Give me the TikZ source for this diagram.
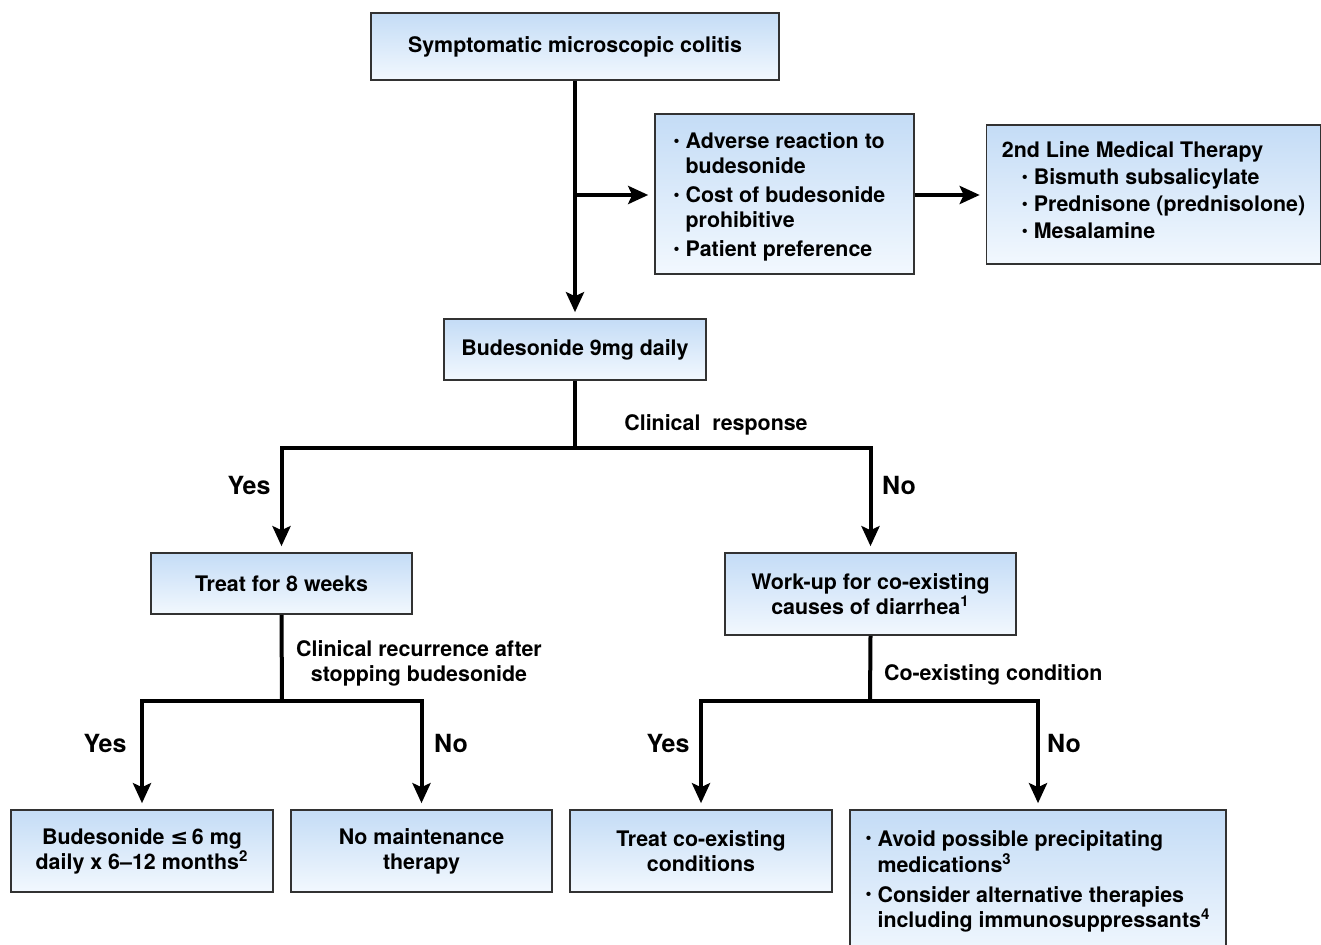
\documentclass[tikz,border=0pt]{standalone}
\usepackage{fontspec}
\setmainfont{TeX Gyre Heros}
\newfontfamily\symfont{DejaVu Sans}
\usetikzlibrary{arrows.meta}

\definecolor{boxtop}{RGB}{196,220,246}
\definecolor{boxbot}{RGB}{242,248,254}
\definecolor{boxline}{RGB}{50,50,50}

\newcommand{\bul}{\raisebox{0.25ex}{\scalebox{0.8}{\textbullet}}}

\tikzset{
  box/.style={draw=boxline, line width=0.8pt, top color=boxtop, bottom color=boxbot,
    align=center, font=\bfseries\fontsize{10.7}{12.5}\selectfont, inner sep=0pt},
  link/.style={line width=2pt, draw=black},
  arr/.style={link, -{Stealth[length=10pt, width=9pt, inset=2pt]}, shorten >=3pt},
  answer/.style={font=\bfseries\fontsize{12.5}{14}\selectfont},
  question/.style={font=\bfseries\fontsize{10.7}{12.5}\selectfont, align=center}
}

\begin{document}
\begin{tikzpicture}[x=0.5pt, y=-0.5pt]

% Page frame (pixel grid of the reference)
\useasboundingbox (0,0) rectangle (1321,945);

% Boxes
\node[box, minimum width=204pt, minimum height=33.5pt] (start) at (575,46.5) {Symptomatic microscopic colitis};
\node[box, minimum width=129.5pt, minimum height=80pt, align=left] (adverse) at (784.5,194)
  {\raisebox{-2pt}[\height][\depth]{\begin{tabular}{@{}l@{\hspace{3pt}}l@{}}
   \bul & Adverse reaction to\\
        & budesonide\\[2pt]
   \bul & Cost of budesonide\\
        & prohibitive\\[2pt]
   \bul & Patient preference
   \end{tabular}}\hspace{5pt}};
\node[box, minimum width=167pt, minimum height=69.5pt, align=left] (second) at (1153.5,194.5)
  {\begin{tabular}{@{}l@{\hspace{3pt}}l@{}}
   \multicolumn{2}{@{}l@{}}{2nd Line Medical Therapy}\\[1pt]
   \hspace{10pt}\bul & Bismuth subsalicylate\\[1pt]
   \hspace{10pt}\bul & Prednisone (prednisolone)\\[1pt]
   \hspace{10pt}\bul & Mesalamine\\[1pt]
   \end{tabular}};
\node[box, minimum width=131pt, minimum height=30.5pt] (bud9) at (575,349.5) {Budesonide 9mg daily};
\node[box, minimum width=130.5pt, minimum height=30.5pt] (treat8) at (281.5,583.5) {Treat for 8 weeks};
\node[box, minimum width=145.5pt, minimum height=41pt] (workup) at (870.5,594)
  {Work-up for co-existing\\causes of diarrhea\textsuperscript{1}};
\node[box, minimum width=131pt, minimum height=41pt] (budlow) at (142,851)
  {Budesonide {\symfont ≤}\,6 mg\\daily x 6--12 months\textsuperscript{2}};
\node[box, minimum width=130.5pt, minimum height=41pt] (nomaint) at (421.5,851)
  {No maintenance\\therapy};
\node[box, minimum width=131pt, minimum height=41pt] (treatco) at (701,851)
  {Treat co-existing\\conditions};
\node[box, minimum width=188pt, minimum height=75pt, align=left] (avoid) at (1038,885)
  {\begin{tabular}{@{}l@{\hspace{3pt}}l@{}}
   \bul & Avoid possible precipitating\\[-0.5pt]
        & medications\textsuperscript{3}\\[2.5pt]
   \bul & Consider alternative therapies\\[-0.5pt]
        & including immunosuppressants\textsuperscript{4}\\[3pt]
   \end{tabular}};

% Split points
\coordinate (toadv) at (575,195);
\coordinate (split1) at (575,448);
\coordinate (split2) at (282,701);
\coordinate (split3) at (870,701);

% Connectors
\draw[arr] (start.south) -- (bud9.north);
\draw[arr] (toadv) -- (adverse.west |- toadv);
\draw[arr] (adverse.east |- toadv) -- (second.west |- toadv);
\draw[link] (bud9.south) -- (split1);
\draw[arr] (split1) -| (treat8.north);
\draw[arr] (split1) -| (workup.north);
\draw[link] (treat8.south) -- (split2);
\draw[arr] (split2) -| (budlow.north);
\draw[arr] (split2) -| (nomaint.north);
\draw[link] (workup.south) -- (split3);
\draw[arr] (split3) -| (treatco.north);
\draw[arr] (split3) -| (avoid.north);

% Questions and answers
\node[question] (q1) at (716,425) {Clinical~~response};
\node[question] (q2) at (419,663) {Clinical recurrence after\\stopping budesonide};
\node[question, anchor=west] (q3) at (877,675) {Co-existing condition};
\foreach \n/\x/\y/\t in {a1/249/486/Yes, a2/899/486/No, a3/105/743/Yes, a4/451/743/No,
                         a5/668/743/Yes, a6/1064/743/No} {
  \node[answer] (\n) at (\x,\y) {\t};
}
\end{tikzpicture}
\end{document}
